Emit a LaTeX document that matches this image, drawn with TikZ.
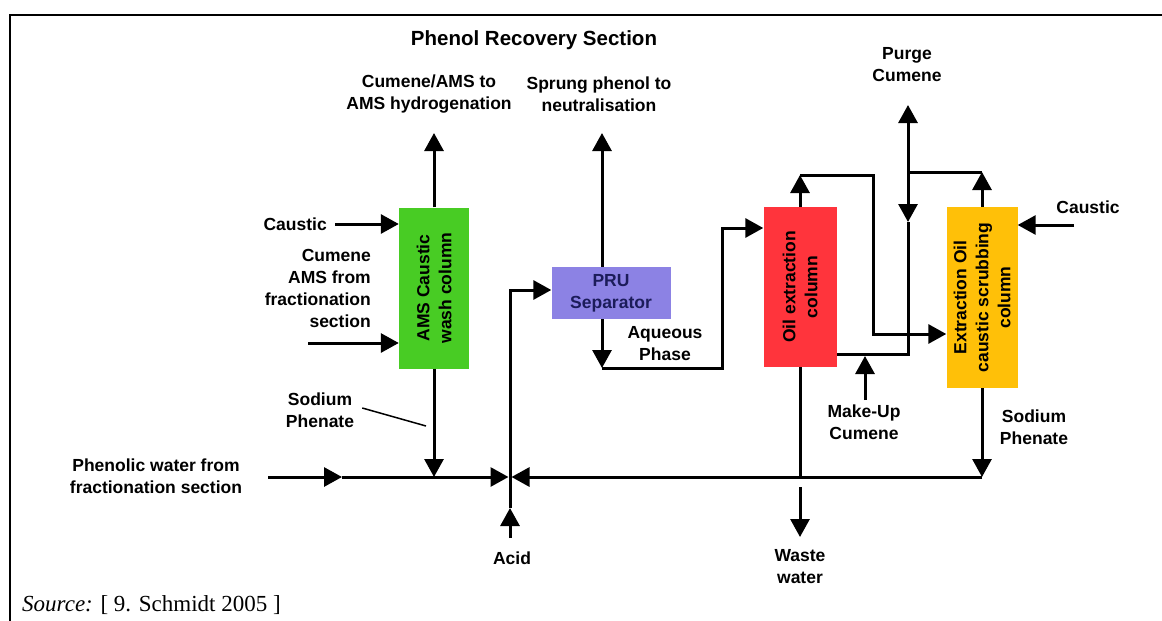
\documentclass[tikz,border=0pt]{standalone}
\usepackage{fontspec}
\setmainfont{Liberation Sans}
\newfontfamily\srcfont{Liberation Serif}
\usetikzlibrary{arrows.meta}
\definecolor{amsgreen}{RGB}{72,204,36}
\definecolor{prublue}{RGB}{140,130,228}
\definecolor{prutext}{RGB}{28,28,90}
\definecolor{oilred}{RGB}{255,52,60}
\definecolor{scrubyel}{RGB}{255,192,8}
\newcommand\lbl{\bfseries\fontsize{17.5}{22}\selectfont}
\newcommand\ttl{\bfseries\fontsize{20.5}{24}\selectfont}
\begin{document}
\begin{tikzpicture}[x=1pt, y=-1pt,
  col/.style={rectangle, draw=none, inner sep=0pt, font=\lbl, align=center},
  lab/.style={font=\lbl, align=center, inner sep=0pt},
  flow/.style={line width=3pt, -{Triangle[length=18pt,width=19pt]}},
  pipe/.style={line width=3pt},
  leader/.style={line width=1.5pt}]
\useasboundingbox (0,0) rectangle (1162,621);
\draw[line width=2.5pt] (10,621) -- (10,15) -- (1162,15);
\node[lab, font=\ttl] (title) at (534,40) {Phenol Recovery Section};
\node[col, fill=amsgreen, minimum width=70pt, minimum height=161pt] (ams) at (434,288) {};
\node[col, fill=prublue, text=prutext, minimum width=119pt, minimum height=52pt] (pru) at (611,293) {PRU\\Separator};
\node[col, fill=oilred, minimum width=73pt, minimum height=160pt] (oil) at (800,287) {};
\node[col, fill=scrubyel, minimum width=71pt, minimum height=181pt] (scrub) at (982,297.5) {};
\node[lab, rotate=90] (amst) at (ams) {AMS Caustic\\wash column};
\node[lab, rotate=90] (oilt) at (oil) {Oil extraction\\column};
\node[lab, rotate=90] (scrubt) at (scrub) {Extraction Oil\\caustic scrubbing\\column};
\node[lab] (amsoutl) at (429,94) {Cumene/AMS to\\AMS hydrogenation};
\node[lab] (sprungl) at (599,94) {Sprung phenol to\\neutralisation};
\node[lab] (purgel) at (907,65) {Purge\\Cumene};
\node[lab, anchor=east] (caus1) at (327,224) {Caustic};
\node[lab, anchor=east, align=right] (feedl) at (371,288) {Cumene\\AMS from\\fractionation\\section};
\node[lab] (sodl) at (320,410) {Sodium\\Phenate};
\node[lab] (pwl) at (156,476) {Phenolic water from\\fractionation section};
\node[lab] (aql) at (665,344) {Aqueous\\Phase};
\node[lab] (acidl) at (512,558) {Acid};
\node[lab] (mul) at (864,422) {Make-Up\\Cumene};
\node[lab] (wastel) at (800,567) {Waste\\water};
\node[lab] (sodr) at (1034,427) {Sodium\\Phenate};
\node[lab] (caus2) at (1088,207) {Caustic};
\node[anchor=base west, inner sep=0pt, font=\srcfont\fontsize{23}{27}\selectfont] (src) at (22,611) {\textit{Source:} [ 9. Schmidt 2005 ]};
\coordinate (jn) at (510,477);
\coordinate (amsout) at (434,133);
\coordinate (sprung) at (602,133);
\coordinate (cin) at (335,224);
\coordinate (feed) at (308,343);
\coordinate (pwin) at (268,477);
\coordinate (pwmid) at (342,477);
\coordinate (acid) at (510,538);
\coordinate (acidmid) at (510,508);
\coordinate (pruin) at (510,290);
\coordinate (aqdown) at (602,368);
\coordinate (aqturn) at (722,368);
\coordinate (oilin) at (722,228);
\coordinate (oiltop) at (800,175);
\coordinate (oilturn) at (873,175);
\coordinate (scrubin) at (873,334);
\coordinate (scrubtop) at (982,172);
\coordinate (split) at (908,172);
\coordinate (purge) at (908,105);
\coordinate (recdown) at (908,222);
\coordinate (recin) at (908,354);
\coordinate (makeup) at (865,400);
\coordinate (mutip) at (865,356);
\coordinate (cin2) at (1074,225);
\coordinate (wastetop) at (800,487);
\coordinate (waste) at (800,537);
\coordinate (lead) at (426,426);
\draw[flow] (ams.north) -- (amsout);
\draw[flow] (cin) -- (cin -| ams.west);
\draw[flow] (feed) -- (feed -| ams.west);
\draw[flow] (ams.south) -- (ams.south |- jn);
\draw[leader] ([shift={(8,-2)}]sodl.east) -- (lead);
\draw[flow] (pwin) -- (pwmid);
\draw[flow, shorten >=1.5pt] (pwmid) -- (jn);
\draw[flow, shorten >=1.5pt] (scrub.south |- jn) -- (jn);
\draw[flow] (scrub.south) -- (scrub.south |- jn);
\draw[flow] (acid) -- (acidmid);
\draw[flow] (acidmid) -- (pruin) -- (pruin -| pru.west);
\draw[flow] (sprung |- pru.north) -- (sprung);
\draw[flow] (sprung |- pru.south) -- (aqdown);
\draw[flow] (aqdown) -- (aqturn) -- (oilin) -- (oilin -| oil.west);
\draw[flow] (oil.north) -- (oiltop);
\draw[flow] (oiltop) -- (oilturn) -- (scrubin) -- (scrubin -| scrub.west);
\draw[flow] (scrub.north) -- (scrubtop);
\draw[pipe] (scrubtop) -- (split);
\draw[flow] (split) -- (purge);
\draw[flow] (split) -- (recdown);
\draw[pipe] (recdown) -- (recin) -- (recin -| oil.east);
\draw[flow] (makeup) -- (mutip);
\draw[flow] (cin2) -- (cin2 -| scrub.east);
\draw[pipe] (oil.south) -- (oil.south |- jn);
\draw[flow] (wastetop) -- (waste);
\end{tikzpicture}
\end{document}
